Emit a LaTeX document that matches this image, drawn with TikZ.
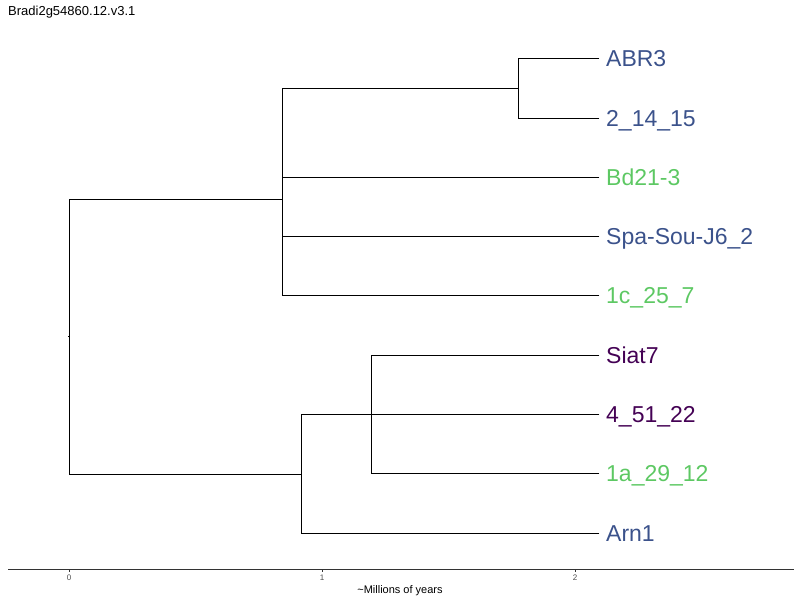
\documentclass[tikz,border=0pt]{standalone}
\usepackage{fontspec}
\setmainfont{Liberation Sans}
\definecolor{vblue}{HTML}{3B528B}
\definecolor{vgreen}{HTML}{5DC863}
\definecolor{vpurple}{HTML}{440154}
\definecolor{axisgray}{HTML}{333333}
\definecolor{tickgray}{HTML}{4D4D4D}
\begin{document}
\begin{tikzpicture}[x=1pt,y=-1pt,
  branch/.style={draw=black,line width=0.9pt,line cap=rect},
  leaf/.style={anchor=base west,inner sep=0pt,font=\fontsize{23}{23}\selectfont},
  ticklab/.style={anchor=base,inner sep=0pt,text=tickgray,font=\fontsize{8}{8}\selectfont},
]
\useasboundingbox (0,0) rectangle (800,600);
\node[anchor=base west,inner sep=0pt,font=\fontsize{13}{13}\selectfont] (title) at (8,15) {Bradi2g54860.12.v3.1};

% leaf labels
\node[leaf,text=vblue]   (abr3) at (606,66)  {ABR3};
\node[leaf,text=vblue]   (l21415) at (606,126) {2\_14\_15};
\node[leaf,text=vgreen]  (bd21) at (606,185) {Bd21-3};
\node[leaf,text=vblue]   (spa)  at (606,244) {Spa-Sou-J6\_2};
\node[leaf,text=vgreen]  (c257) at (606,303) {1c\_25\_7};
\node[leaf,text=vpurple] (siat) at (606,363) {Siat7};
\node[leaf,text=vpurple] (l45122) at (606,422) {4\_51\_22};
\node[leaf,text=vgreen]  (a2912) at (606,481) {1a\_29\_12};
\node[leaf,text=vblue]   (arn1) at (606,541) {Arn1};

% leaf tips
\coordinate (tABR3) at (599,58);
\coordinate (t21415) at (599,118);
\coordinate (tBd21) at (599,177);
\coordinate (tSpa) at (599,236);
\coordinate (t1c) at (599,295);
\coordinate (tSiat) at (599,355);
\coordinate (t45122) at (599,414);
\coordinate (t1a) at (599,473);
\coordinate (tArn1) at (599,533);

% internal nodes
\coordinate (nAB) at (518,88);
\coordinate (nUp) at (282,199);
\coordinate (nRoot) at (69,336);
\coordinate (nLow) at (301,474);
\coordinate (nSi) at (371,414);

% root
\draw[branch] (nRoot |- nUp) -- (nRoot |- nLow);
\draw[branch] (nRoot) -- ++(-1,0);
\draw[branch] (nRoot |- nUp) -- (nUp);
\draw[branch] (nRoot |- nLow) -- (nLow);
% upper clade
\draw[branch] (nUp |- nAB) -- (nUp |- t1c);
\draw[branch] (nUp |- nAB) -- (nAB);
\draw[branch] (nUp |- tBd21) -- (tBd21);
\draw[branch] (nUp |- tSpa) -- (tSpa);
\draw[branch] (nUp |- t1c) -- (t1c);
\draw[branch] (nAB |- tABR3) -- (nAB |- t21415);
\draw[branch] (nAB |- tABR3) -- (tABR3);
\draw[branch] (nAB |- t21415) -- (t21415);
% lower clade
\draw[branch] (nLow |- t45122) -- (nLow |- tArn1);
\draw[branch] (nLow |- t45122) -- (t45122);
\draw[branch] (nLow |- tArn1) -- (tArn1);
\draw[branch] (nSi |- tSiat) -- (nSi |- t1a);
\draw[branch] (nSi |- tSiat) -- (tSiat);
\draw[branch] (nSi |- t1a) -- (t1a);

% axis
\coordinate (axL) at (8,569);
\coordinate (axR) at (794,569);
\draw[draw=axisgray,line width=0.9pt] (axL) -- (axR);
\foreach \xx/\lab in {69/0,322/1,575/2}{
  \draw[draw=axisgray,line width=0.6pt] (\xx,569) -- (\xx,572);
  \node[ticklab] (tick\lab) at (\xx,580) {\lab};
}
\node[anchor=base,inner sep=0pt,font=\fontsize{11}{11}\selectfont] (xlab) at (400,593) {\textasciitilde Millions of years};
\end{tikzpicture}
\end{document}
